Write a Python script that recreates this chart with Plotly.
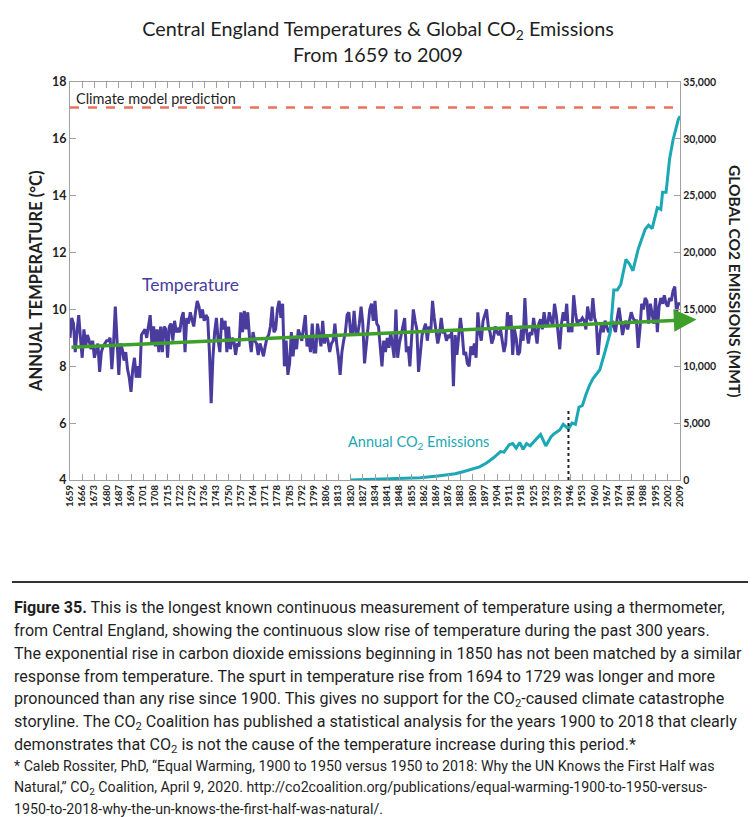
import plotly.graph_objects as go

# ---------------- data ----------------
years = list(range(1659, 2010))
temperature = [
    9.0,
    9.7, 9.5, 8.5, 9.2, 9.8, 9.0, 8.3, 9.3, 8.7, 9.1,
    8.9, 8.6, 8.9, 8.3, 8.6, 8.8, 7.8, 8.5, 8.7, 8.8,
    8.9, 8.9, 9.0, 7.9, 8.8, 10.1, 9.0, 7.7, 8.8, 8.6,
    8.2, 8.5, 7.9, 7.6, 7.1, 7.9, 8.3, 7.6, 8.0, 7.6,
    9.1, 9.2, 9.3, 9.0, 9.5, 9.8, 8.8, 9.4, 8.7, 9.3,
    8.5, 9.4, 8.5, 9.4, 9.3, 8.3, 9.4, 9.5, 8.9, 9.6,
    9.2, 9.3, 9.2, 9.7, 9.9, 8.5, 9.7, 9.5, 9.9, 9.6,
    9.4, 9.9, 10.3, 10.1, 9.7, 10.0, 9.6, 9.8, 9.7, 8.5,
    6.7, 8.3, 9.2, 9.7, 8.9, 8.5, 9.7, 9.3, 9.6, 8.5,
    9.4, 8.6, 9.0, 8.9, 8.4, 8.8, 8.7, 9.9, 9.2, 9.95,
    9.3, 9.9, 9.0, 8.5, 9.2, 8.9, 8.8, 8.4, 8.8, 8.6,
    8.35, 8.7, 9.0, 9.1, 9.4, 10.1, 9.2, 9.3, 10.0, 10.3,
    9.7, 10.2, 8.0, 8.9, 7.7, 8.1, 9.2, 8.35, 9.0, 8.6,
    9.3, 9.1, 8.9, 9.35, 9.8, 8.7, 9.0, 8.5, 9.5, 8.5,
    8.5, 9.5, 9.0, 8.7, 9.6, 8.8, 9.1, 8.9, 8.5, 8.8,
    8.9, 9.5, 8.8, 8.35, 7.7, 8.5, 8.9, 9.2, 9.8, 9.9,
    9.2, 9.1, 9.95, 9.2, 9.1, 9.5, 10.1, 9.5, 8.1, 8.8,
    9.3, 10.0, 10.2, 9.6, 10.3, 9.5, 9.4, 8.6, 8.0, 8.9,
    8.5, 9.0, 8.65, 9.2, 8.8, 8.3, 10.0, 8.3, 8.8, 9.1,
    9.4, 9.7, 8.5, 8.7, 8.0, 9.0, 10.0, 9.6, 9.3, 7.8,
    8.6, 9.1, 9.3, 9.5, 8.9, 9.4, 9.2, 10.3, 9.7, 9.2,
    8.8, 9.1, 9.7, 9.2, 9.2, 8.9, 9.1, 9.0, 9.2, 7.3,
    9.1, 8.4, 9.2, 9.7, 9.2, 8.4, 8.5, 8.1, 8.0, 8.7,
    8.4, 8.8, 8.3, 9.9, 9.2, 8.9, 9.6, 9.8, 10.0, 9.4,
    9.2, 8.8, 9.0, 9.4, 9.2, 9.1, 9.3, 8.9, 8.5, 8.8,
    9.9, 9.3, 9.8, 8.4, 9.3, 9.0, 8.4, 8.5, 9.3, 8.9,
    10.4, 9.2, 8.8, 9.2, 9.1, 9.7, 9.3, 8.8, 9.5, 9.65,
    9.3, 9.9, 9.5, 9.4, 9.9, 9.6, 9.4, 10.2, 9.8, 9.2,
    8.6, 9.5, 9.9, 9.6, 10.2, 9.2, 9.5, 9.2, 10.5, 9.9,
    9.5, 9.6, 9.6, 9.7, 9.6, 9.3, 10.1, 9.7, 9.6, 10.4,
    9.7, 9.5, 8.4, 9.1, 9.5, 9.2, 9.6, 9.4, 9.2, 9.3,
    9.6, 9.4, 9.2, 9.7, 10.06, 9.6, 9.1, 9.4, 9.6, 9.3,
    9.6, 9.9, 9.7, 9.6, 9.6, 8.65, 9.3, 10.2, 10.0, 10.4,
    10.3, 9.5, 10.2, 9.8, 9.5, 10.4, 9.2, 10.1, 10.4, 10.2,
    10.5, 10.2, 10.1, 10.4, 10.3, 10.65, 10.8, 9.9, 10.2, 10.2,
]
assert len(years) == len(temperature)

co2_years = [1820, 1830, 1840, 1850, 1860, 1870, 1880, 1885, 1890, 1894,
             1898, 1902, 1906, 1908, 1911, 1913, 1915, 1917, 1919, 1921,
             1923, 1926, 1929, 1932, 1935, 1937, 1940, 1942, 1944, 1945,
             1947, 1949, 1951, 1953, 1955, 1957, 1959, 1961, 1963, 1966,
             1969, 1970, 1971, 1973, 1975, 1978, 1980, 1982, 1985, 1989,
             1991, 1993, 1996, 1998, 1999, 2001, 2003, 2005, 2007, 2008,
             2009]
co2_values = [0, 50, 100, 150, 200, 350, 550, 750, 1000, 1150,
              1500, 1950, 2500, 2450, 3100, 3200, 2800, 3300, 2700, 3200,
              3000, 3500, 4000, 3000, 3800, 4100, 4400, 4900, 4650, 4500,
              5000, 4900, 6400, 6550, 7500, 8300, 8900, 9300, 9700, 11300,
              13000, 14800, 16700, 16700, 17200, 19400, 19000, 18400, 20300, 22050,
              22400, 22100, 23950, 23800, 25300, 25300, 28200, 29900, 31000, 31700,
              32000]
assert len(co2_years) == len(co2_values)

trend_years = [1659, 2009]
trend_values = [8.67, 9.62]
trend_arrow_tip_year = 2018.5
prediction_temp = 17.1
milestone_year = 1945
milestone_co2 = [0, 6300]

tick_years = list(range(1659, 2003, 7)) + [2009]
tick_labels = [str(y) for y in tick_years]
temp_ticks = [4, 6, 8, 10, 12, 14, 16, 18]
co2_ticks = [0, 5000, 10000, 15000, 20000, 25000, 30000, 35000]
co2_tick_labels = ["0", "5,000", "10,000", "15,000", "20,000", "25,000", "30,000", "35,000"]

# ---------------- styling ----------------
PURPLE = "#4a3b9e"
TEAL = "#1ba8b4"
GREEN = "#3ea02a"
RED = "#e8735a"
AXIS = "#a0a0a0"
TXT = "#1f1f1f"
FONT = "Lato"

# page has an 8px body margin, so the figure is sized/offset to compensate
OFF = 8
W, H = 756 - OFF, 817 - OFF
L, R, T, B = 70 - OFF, 76, 82 - OFF, 337
pw, ph = W - L - R, H - T - B


def px_to_paper_x(px):
    return (px - OFF - L) / pw


def px_to_paper_y(py):
    return (H - B - (py - OFF)) / ph


fig = go.Figure()

fig.add_trace(go.Scatter(
    x=[trend_years[0], trend_years[1]], y=[prediction_temp, prediction_temp],
    mode="lines", line=dict(color=RED, width=2.5, dash="dash"),
    hoverinfo="skip", showlegend=False, yaxis="y"))

fig.add_trace(go.Scatter(
    x=years, y=temperature, mode="lines",
    line=dict(color=PURPLE, width=3), showlegend=False, yaxis="y"))

fig.add_trace(go.Scatter(
    x=co2_years, y=co2_values, mode="lines",
    line=dict(color=TEAL, width=3), showlegend=False, yaxis="y2"))

fig.add_trace(go.Scatter(
    x=[milestone_year, milestone_year], y=milestone_co2, mode="lines",
    line=dict(color="#222222", width=2, dash="dot"), showlegend=False, yaxis="y2"))

slope = (trend_values[1] - trend_values[0]) / (trend_years[1] - trend_years[0])
tip_y = trend_values[0] + slope * (trend_arrow_tip_year - trend_years[0])

annotations = [
    dict(x=trend_arrow_tip_year, y=tip_y, xref="x", yref="y",
         ax=trend_years[0], ay=trend_values[0], axref="x", ayref="y",
         text="", showarrow=True, arrowhead=2, arrowsize=1.3, arrowwidth=3.5,
         arrowcolor=GREEN, standoff=0, startstandoff=0),
    dict(x=1661.5, y=17.1, xref="x", yref="y", xanchor="left", yanchor="bottom",
         text="Climate model prediction", showarrow=False,
         font=dict(family=FONT, size=14.5, color=TXT), yshift=-1),
    dict(x=1728, y=10.86, xref="x", yref="y", text="Temperature", showarrow=False,
         font=dict(family=FONT, size=17.5, color=PURPLE)),
    dict(x=1858.7, y=3330, xref="x", yref="y2", text="Annual CO<sub>2</sub> Emissions",
         showarrow=False, font=dict(family=FONT, size=14.5, color=TEAL)),
    dict(x=px_to_paper_x(36), y=0.5, xref="paper", yref="paper", textangle=-90,
         xanchor="center", yanchor="middle",
         text="<b>ANNUAL TEMPERATURE (°C)</b>", showarrow=False,
         font=dict(family=FONT, size=16.5, color=TXT)),
    dict(x=px_to_paper_x(735), y=0.5, xref="paper", yref="paper", textangle=90,
         xanchor="center", yanchor="middle",
         text="<b>GLOBAL CO2 EMISSIONS (MMT)</b>", showarrow=False,
         font=dict(family=FONT, size=15.5, color=TXT)),
]

# caption
cap_font = "Roboto"
caption_lines = [
    "<b>Figure 35.</b> This is the longest known continuous measurement of temperature using a thermometer,",
    "from Central England, showing the continuous slow rise of temperature during the past 300 years.",
    "The exponential rise in carbon dioxide emissions beginning in 1850 has not been matched by a similar",
    "response from temperature. The spurt in temperature rise from 1694 to 1729 was longer and more",
    "pronounced than any rise since 1900. This gives no support for the CO<sub>2</sub>-caused climate catastrophe",
    "storyline. The CO<sub>2</sub> Coalition has published a statistical analysis for the years 1900 to 2018 that clearly",
    "demonstrates that CO<sub>2</sub> is not the cause of the temperature increase during this period.*",
]
foot_lines = [
    "* Caleb Rossiter, PhD, “Equal Warming, 1900 to 1950 versus 1950 to 2018: Why the UN Knows the First Half was",
    "Natural,” CO<sub>2</sub> Coalition, April 9, 2020. http://co2coalition.org/publications/equal-warming-1900-to-1950-versus-",
    "1950-to-2018-why-the-un-knows-the-first-half-was-natural/.",
]

for i, line in enumerate(caption_lines):
    annotations.append(dict(
        x=px_to_paper_x(12), y=px_to_paper_y(607 + 23 * i), xref="paper", yref="paper",
        xanchor="left", yanchor="middle", text=line, showarrow=False, align="left",
        font=dict(family=cap_font, size=16.1, color=TXT)))
for i, line in enumerate(foot_lines):
    annotations.append(dict(
        x=px_to_paper_x(12), y=px_to_paper_y(766 + 21.5 * i), xref="paper", yref="paper",
        xanchor="left", yanchor="middle", text=line, showarrow=False, align="left",
        font=dict(family=cap_font, size=14.2, color=TXT)))

shapes = [dict(type="line", xref="paper", yref="paper",
               x0=px_to_paper_x(12), x1=px_to_paper_x(750),
               y0=px_to_paper_y(582), y1=px_to_paper_y(582),
               line=dict(color="#333333", width=2))]

fig.update_layout(
    width=W, height=H,
    margin=dict(l=L, r=R, t=T, b=B),
    paper_bgcolor="white", plot_bgcolor="white",
    font=dict(family=FONT, color=TXT),
    title=dict(text="Central England Temperatures & Global CO<sub>2</sub> Emissions<br>From 1659 to 2009",
               x=(378 - OFF) / W, xanchor="center",
               y=1 - (36 - OFF) / H, yanchor="middle", yref="container",
               font=dict(family=FONT, size=19.8, color=TXT)),
    xaxis=dict(range=[1659, 2009], tickmode="array", tickvals=tick_years, ticktext=tick_labels,
               tickangle=-90, ticks="inside", ticklen=6, tickcolor=AXIS, tickwidth=1,
               showline=True, linecolor=AXIS, linewidth=1.2, mirror="ticks",
               showgrid=False, zeroline=False,
               tickfont=dict(family=FONT, size=9.5, color=TXT, weight="bold")),
    yaxis=dict(range=[4, 18], tickmode="array", tickvals=temp_ticks,
               ticks="inside", ticklen=6, tickcolor=AXIS,
               showline=True, linecolor=AXIS, linewidth=1.2,
               showgrid=False, zeroline=False,
               tickfont=dict(family=FONT, size=12.5, color=TXT, weight="bold")),
    yaxis2=dict(range=[0, 35000], overlaying="y", side="right", tickmode="array",
                tickvals=co2_ticks, ticktext=co2_tick_labels,
                ticks="inside", ticklen=6, tickcolor=AXIS,
                showline=True, linecolor=AXIS, linewidth=1.2,
                showgrid=False, zeroline=False,
                tickfont=dict(family=FONT, size=10.5, color=TXT, weight="bold")),
    annotations=annotations,
    shapes=shapes,
    showlegend=False,
)

fig.write_html("out.html")
